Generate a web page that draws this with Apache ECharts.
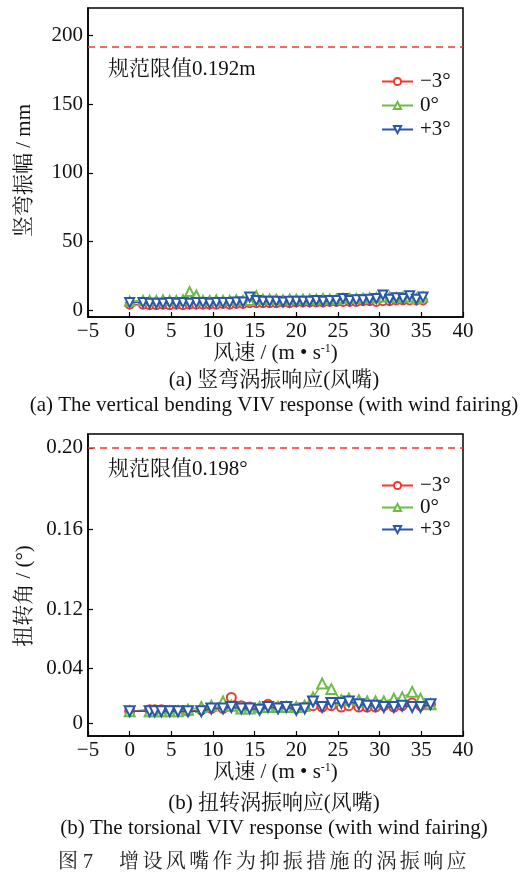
<!DOCTYPE html>
<html>
<head>
<meta charset="utf-8">
<script src="https://cdn.jsdelivr.net/npm/echarts@6/dist/echarts.min.js"></script>
<style>html,body{margin:0;padding:0;background:#fff}#c{width:530px;height:892px}</style>
</head>
<body>
<div id="c"></div>
<script>
// ---- data: (a) vertical bending amplitude (mm) ----
const windA = [0, 1.6, 2.4, 3.2, 4.0, 4.8, 5.6, 6.4, 7.2, 8.0, 8.8, 9.6, 10.4, 11.2, 12.0, 12.8, 13.6, 14.4, 15.2, 16.0, 16.8, 17.6, 18.4, 19.2, 20.0, 20.8, 21.6, 22.4, 23.2, 24.0, 24.8, 25.6, 26.4, 27.2, 28.0, 28.8, 29.6, 30.4, 31.2, 32.0, 32.8, 33.6, 34.4, 35.2];
const redA   = [4.0, 4.0, 3.5, 3.5, 4.0, 3.5, 4.0, 3.5, 4.0, 4.0, 4.0, 4.0, 4.0, 4.5, 4.0, 4.5, 4.5, 5.0, 5.0, 5.0, 5.0, 5.0, 5.5, 5.0, 5.5, 5.5, 5.5, 5.5, 5.5, 6.0, 6.0, 6.0, 6.0, 6.0, 6.5, 6.5, 6.0, 6.5, 6.5, 7.0, 7.0, 7.0, 7.0, 7.0];
const greenA = [6.5, 7.0, 7.0, 7.0, 7.5, 7.0, 7.0, 7.5, 13.5, 11.0, 7.0, 7.0, 7.5, 7.0, 7.0, 7.5, 7.0, 7.0, 10.5, 8.0, 8.0, 8.0, 7.5, 8.0, 8.0, 8.0, 8.0, 8.0, 8.5, 8.0, 8.0, 8.5, 8.5, 8.5, 8.5, 9.0, 9.0, 9.5, 9.5, 9.0, 9.5, 9.5, 8.5, 9.5];
const blueA  = [5.5, 5.5, 5.0, 5.0, 5.0, 5.5, 5.0, 5.5, 5.0, 5.5, 5.5, 5.0, 5.5, 5.5, 5.5, 6.0, 6.0, 9.5, 7.0, 6.5, 6.5, 6.5, 6.0, 6.5, 6.5, 6.5, 6.5, 7.0, 6.5, 7.0, 7.0, 8.5, 7.0, 7.5, 7.5, 8.0, 8.5, 11.0, 8.0, 9.0, 8.5, 10.5, 8.0, 9.5];
const limitA = 192;
const yTicksA = [0, 50, 100, 150, 200];

// ---- data: (b) torsional angle (deg) ----
const windB = [0, 2.4, 3.0, 3.8, 4.8, 5.8, 7.0, 8.6, 9.8, 11.2, 12.2, 13.4, 14.4, 15.6, 16.6, 17.8, 18.8, 20.0, 21.0, 22.0, 23.1, 24.2, 25.4, 26.3, 27.5, 28.5, 29.5, 30.5, 31.7, 32.7, 33.9, 34.9, 36.1];
const redB   = [0.009, 0.010, 0.010, 0.010, 0.009, 0.009, 0.009, 0.010, 0.011, 0.011, 0.019, 0.013, 0.012, 0.011, 0.014, 0.012, 0.012, 0.011, 0.012, 0.013, 0.012, 0.013, 0.012, 0.013, 0.012, 0.012, 0.012, 0.013, 0.012, 0.013, 0.015, 0.013, 0.014];
const greenB = [0.009, 0.009, 0.009, 0.009, 0.009, 0.009, 0.010, 0.012, 0.013, 0.016, 0.013, 0.011, 0.011, 0.012, 0.012, 0.012, 0.012, 0.012, 0.013, 0.019, 0.029, 0.025, 0.017, 0.018, 0.017, 0.016, 0.016, 0.016, 0.018, 0.019, 0.023, 0.018, 0.014];
const blueB  = [0.009, 0.009, 0.009, 0.009, 0.009, 0.009, 0.009, 0.009, 0.011, 0.011, 0.012, 0.011, 0.011, 0.010, 0.012, 0.011, 0.012, 0.010, 0.011, 0.016, 0.012, 0.015, 0.015, 0.016, 0.014, 0.013, 0.013, 0.012, 0.012, 0.013, 0.012, 0.012, 0.014];
const limitB = 0.198;
const yLabelPosB  = [0, 0.04, 0.083, 0.141, 0.20];
const yLabelTextB = ['0', '0.04', '0.12', '0.16', '0.20'];

const seriesNames = ['\u22123\u00b0', '0\u00b0', '+3\u00b0'];
const xTicks = [-5, 40, 5];

// ---- styling ----
const SERIF = "'Liberation Serif', 'Noto Serif CJK SC', 'Noto Sans CJK SC', serif";
const COLORS = ['#ee3a2e', '#6cbd45', '#2a57aa'];
const SYMBOLS = ['emptyCircle', 'emptyTriangle', 'emptyTriangle'];
const ROT = [0, 0, 180];

function xAxisCfg(gi) {
  return {
    gridIndex: gi, type: 'value', min: xTicks[0], max: xTicks[1], interval: xTicks[2],
    axisLine: {show: true, onZero: false, lineStyle: {color: '#000', width: 1.5}},
    axisTick: {show: true, inside: true, length: 5, lineStyle: {color: '#000', width: 1.2}},
    axisLabel: {color: '#111', fontFamily: SERIF, fontSize: 21, margin: 4,
      formatter: v => (v < 0 ? '\u2212' + (-v) : '' + v)},
    splitLine: {show: false},
    name: '风速 / (m • s{sup|-1})', nameLocation: 'middle', nameGap: 26,
    nameTextStyle: {color: '#111', fontFamily: SERIF, fontSize: 21,
      rich: {sup: {fontFamily: SERIF, fontSize: 12, verticalAlign: 'top', padding: [0, 0, 8, 0]}}}
  };
}

function mkSeries(name, xs, ys, k, gi, size, limit) {
  const s = {
    name: name, type: 'line', xAxisIndex: gi, yAxisIndex: gi,
    data: xs.map((x, i) => [x, ys[i]]),
    symbol: SYMBOLS[k], symbolRotate: ROT[k], symbolSize: size,
    lineStyle: {color: COLORS[k], width: 1.5},
    itemStyle: {color: COLORS[k], borderWidth: 1.5},
    z: 3 + k, animation: false
  };
  if (limit !== undefined) {
    s.markLine = {silent: true, symbol: ['none', 'none'], label: {show: false},
      lineStyle: {color: '#ee3a2e', type: [7, 5], width: 1.5},
      data: [{yAxis: limit}], animation: false};
  }
  return s;
}

const chart = echarts.init(document.getElementById('c'), null, {renderer: 'canvas'});

const captionChars = '增设风嘴作为抑振措施的涡振响应'.split('');
const graphics = [
  {type: 'text', left: 108, top: 59, style: {text: '规范限值0.192m', font: '21px ' + SERIF, fill: '#111'}},
  {type: 'text', left: 108, top: 459, style: {text: '规范限值0.198°', font: '21px ' + SERIF, fill: '#111'}},
  {type: 'text', x: 274, y: 380, style: {text: '(a) 竖弯涡振响应(风嘴)', font: '21px ' + SERIF, fill: '#111', align: 'center', verticalAlign: 'middle'}},
  {type: 'text', x: 274, y: 405, style: {text: '(a) The vertical bending VIV response (with wind fairing)', font: '21px ' + SERIF, fill: '#111', align: 'center', verticalAlign: 'middle'}},
  {type: 'text', x: 274, y: 803, style: {text: '(b) 扭转涡振响应(风嘴)', font: '21px ' + SERIF, fill: '#111', align: 'center', verticalAlign: 'middle'}},
  {type: 'text', x: 274, y: 828, style: {text: '(b) The torsional VIV response (with wind fairing)', font: '21px ' + SERIF, fill: '#111', align: 'center', verticalAlign: 'middle'}},
  {type: 'text', x: 58, y: 863, style: {text: '图 7', font: '20px ' + SERIF, fill: '#222', verticalAlign: 'middle'}}
].concat(captionChars.map((ch, i) => ({
  type: 'text', x: 119 + i * 23.4, y: 863,
  style: {text: ch, font: '20px ' + SERIF, fill: '#222', verticalAlign: 'middle'}
})));

chart.setOption({
  animation: false,
  backgroundColor: '#fff',
  grid: [
    {left: 88, top: 8, width: 375, height: 309, show: true, borderColor: '#000', borderWidth: 1.5, backgroundColor: 'transparent'},
    {left: 88, top: 434, width: 375, height: 302, show: true, borderColor: '#000', borderWidth: 1.5, backgroundColor: 'transparent'}
  ],
  xAxis: [xAxisCfg(0), xAxisCfg(1)],
  yAxis: [
    {gridIndex: 0, type: 'value', min: -5, max: 220,
      axisLine: {show: true, onZero: false, lineStyle: {color: '#000', width: 1.5}},
      axisTick: {show: true, inside: true, length: 5, customValues: yTicksA, lineStyle: {color: '#000', width: 1.2}},
      axisLabel: {color: '#111', fontFamily: SERIF, fontSize: 21, margin: 5, customValues: yTicksA},
      splitLine: {show: false},
      name: '竖弯振幅 / mm', nameLocation: 'middle', nameGap: 53,
      nameTextStyle: {color: '#111', fontFamily: SERIF, fontSize: 21, padding: [0, 16, 0, 0]}},
    {gridIndex: 1, type: 'value', min: -0.009, max: 0.21,
      axisLine: {show: true, onZero: false, lineStyle: {color: '#000', width: 1.5}},
      axisTick: {show: true, inside: true, length: 5, customValues: yLabelPosB, lineStyle: {color: '#000', width: 1.2}},
      axisLabel: {color: '#111', fontFamily: SERIF, fontSize: 21, margin: 5, customValues: yLabelPosB,
        formatter: v => { const i = yLabelPosB.findIndex(p => Math.abs(p - v) < 1e-6); return i >= 0 ? yLabelTextB[i] : ''; }},
      splitLine: {show: false},
      name: '扭转角 / (°)', nameLocation: 'middle', nameGap: 53,
      nameTextStyle: {color: '#111', fontFamily: SERIF, fontSize: 21, padding: [0, 22, 0, 0]}}
  ],
  legend: [
    {orient: 'vertical', left: 376, top: 66, itemWidth: 31, itemHeight: 9, itemGap: 3,
      data: seriesNames, textStyle: {fontFamily: SERIF, fontSize: 21, color: '#111', padding: [0, 0, 0, 2]},
      selectedMode: false},
    {orient: 'vertical', left: 376, top: 470, itemWidth: 31, itemHeight: 9, itemGap: 1,
      data: seriesNames, textStyle: {fontFamily: SERIF, fontSize: 21, color: '#111', padding: [0, 0, 0, 2]},
      selectedMode: false}
  ],
  graphic: graphics,
  series: [
    mkSeries(seriesNames[0], windA, redA, 0, 0, 8, limitA),
    mkSeries(seriesNames[1], windA, greenA, 1, 0, 9),
    mkSeries(seriesNames[2], windA, blueA, 2, 0, 9),
    mkSeries(seriesNames[0], windB, redB, 0, 1, 9, limitB),
    mkSeries(seriesNames[1], windB, greenB, 1, 1, 10),
    mkSeries(seriesNames[2], windB, blueB, 2, 1, 10)
  ]
});
</script>
</body>
</html>
